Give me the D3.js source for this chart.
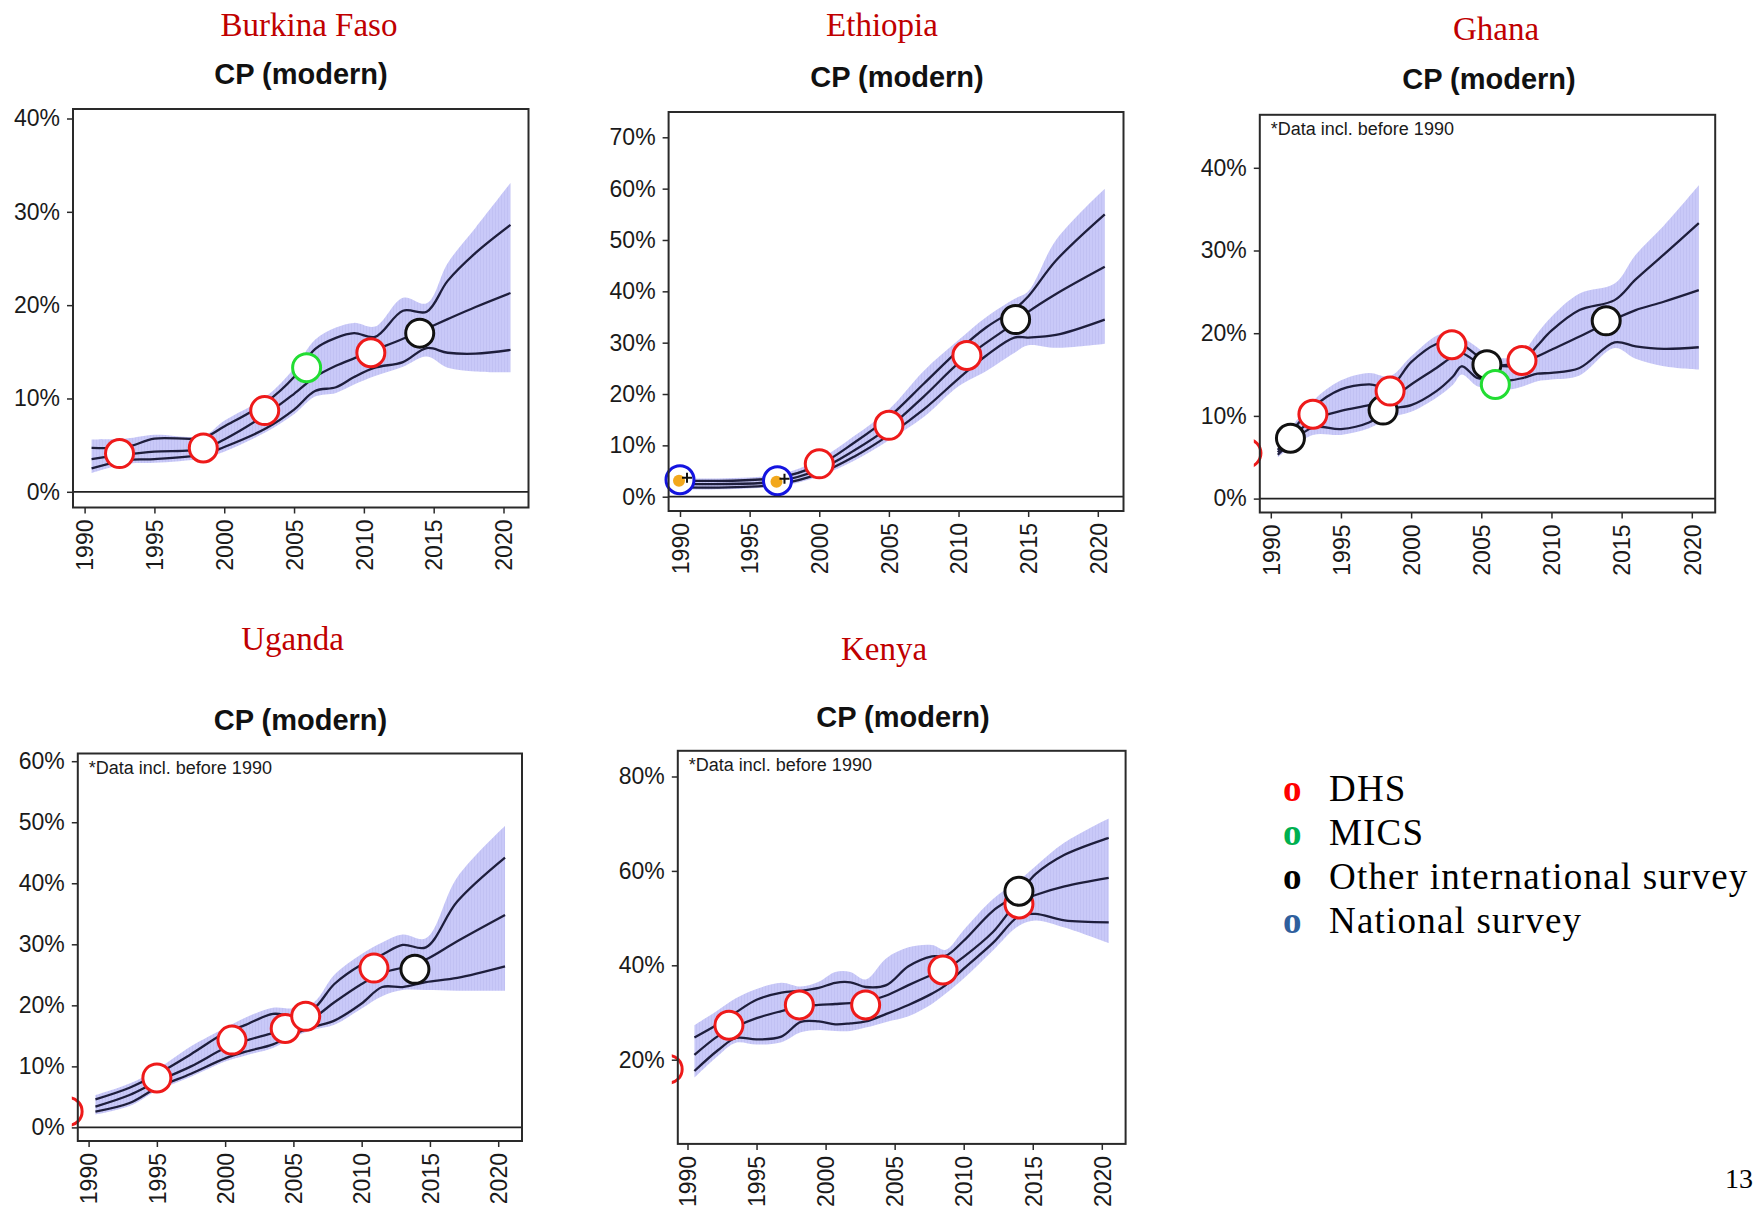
<!DOCTYPE html>
<html>
<head>
<meta charset="utf-8">
<script src="https://cdn.jsdelivr.net/npm/d3@7"></script>
<style>
  html, body { margin: 0; padding: 0; background: #fff; }
  svg { display: block; }
</style>
</head>
<body>
<svg id="chart" width="1754" height="1210"></svg>
<script>
// Modern contraceptive prevalence (CP, modern methods), estimates 1990-2020
// median, 80% bounds (lines) and 95% bounds (shaded band), in percent.

// ---- Burkina Faso ----
const burkinaYears  = [1990.5, 1993, 1995, 1998.5, 2000, 2003, 2005, 2006.5, 2008, 2009.3, 2010.8, 2012.8, 2014.5, 2016, 2018, 2020.5];
const burkinaMedian = [3.5, 4.0, 4.3, 4.6, 5.6, 8.3, 10.5, 12.3, 13.5, 14.3, 15.2, 16.4, 17.5, 18.5, 19.8, 21.3];
const burkinaUpper  = [4.7, 4.8, 5.7, 5.8, 7.0, 9.6, 12.3, 15.3, 16.5, 17.0, 16.6, 19.4, 19.3, 22.6, 25.6, 28.6];
const burkinaLower  = [2.5, 3.4, 3.5, 4.0, 4.8, 6.8, 8.8, 10.8, 11.2, 12.3, 13.3, 13.9, 15.4, 14.9, 14.8, 15.2];
const burkinaBandHi = [5.6, 5.7, 6.1, 6.0, 7.6, 10.2, 13.2, 16.3, 17.6, 18.1, 17.7, 20.8, 20.2, 24.5, 28.3, 33.1];
const burkinaBandLo = [2.0, 3.0, 3.1, 3.6, 4.3, 6.4, 8.3, 10.2, 10.6, 11.5, 12.4, 13.4, 14.5, 13.3, 12.9, 12.8];
const burkinaSurveys = [
  [1992.5, 4.1, "DHS"], [1998.5, 4.7, "DHS"], [2002.9, 8.7, "DHS"],
  [2005.9, 13.3, "MICS"], [2010.5, 14.9, "DHS"], [2014.0, 17.0, "Other"]
];

// ---- Ethiopia ----
const ethiopiaYears  = [1990, 1997, 2000, 2002.5, 2005, 2007.5, 2010, 2012, 2014, 2015, 2017, 2020.5];
const ethiopiaMedian = [2.5, 3.0, 5.3, 9.0, 13.5, 19.5, 26.0, 30.0, 33.8, 36.0, 39.5, 44.8];
const ethiopiaUpper  = [3.1, 3.7, 6.2, 10.5, 15.5, 22.0, 28.5, 33.0, 36.5, 39.0, 46.0, 55.0];
const ethiopiaLower  = [1.8, 2.4, 4.5, 7.8, 12.0, 17.0, 23.0, 27.5, 31.0, 31.0, 31.5, 34.5];
const ethiopiaBandHi = [3.6, 4.3, 7.3, 11.8, 17.0, 24.5, 30.5, 35.0, 38.5, 40.0, 50.0, 60.0];
const ethiopiaBandLo = [1.4, 2.0, 4.0, 7.0, 11.0, 15.5, 21.5, 24.5, 28.0, 29.5, 29.0, 29.8];
const ethiopiaSurveys = [
  [1990.0, 3.3, "National"], [1997.0, 3.1, "National"], [2000.0, 6.4, "DHS"],
  [2005.0, 13.9, "DHS"], [2010.6, 27.5, "DHS"], [2014.1, 34.5, "Other"]
];
// national surveys flagged with an adjustment marker
const ethiopiaFlagged = [[1990.0, 3.3], [1997.0, 3.1]];

// ---- Ghana ----
const ghanaYears  = [1990.5, 1993, 1995, 1997, 1998.5, 2000, 2001.8, 2003, 2003.6, 2004.7, 2005.5, 2007, 2008, 2009, 2010, 2012, 2014.5, 2016, 2018, 2020.5];
const ghanaMedian = [5.6, 9.5, 10.6, 11.3, 12.0, 13.8, 15.8, 17.2, 17.6, 16.5, 16.1, 16.2, 16.6, 17.2, 18.0, 19.6, 21.7, 22.8, 23.8, 25.2];
const ghanaUpper  = [5.9, 11.0, 13.2, 13.8, 13.5, 16.5, 18.7, 19.0, 18.7, 17.3, 16.5, 16.0, 16.7, 18.5, 20.3, 22.8, 24.0, 26.5, 29.5, 33.3];
const ghanaLower  = [5.3, 8.6, 8.4, 9.2, 10.8, 11.3, 13.0, 14.8, 16.0, 14.6, 14.5, 14.3, 14.6, 15.1, 15.2, 15.8, 18.9, 18.4, 18.1, 18.3];
const ghanaBandHi = [6.3, 11.8, 14.3, 15.2, 14.8, 17.2, 19.7, 20.2, 19.6, 18.3, 17.3, 17.0, 17.8, 20.0, 22.0, 24.8, 26.0, 29.5, 33.0, 37.9];
const ghanaBandLo = [5.0, 7.7, 7.7, 8.5, 9.8, 10.5, 12.2, 13.8, 15.0, 13.6, 13.5, 13.2, 13.6, 14.2, 14.4, 14.9, 18.2, 16.9, 16.0, 15.6];
const ghanaSurveys = [
  [1988.3, 5.5, "DHS"], [1991.4, 7.3, "Other"], [1998.0, 10.7, "Other"],
  [2005.4, 16.2, "Other"], [2013.9, 21.5, "Other"], [1993.0, 10.2, "DHS"],
  [1998.5, 13.0, "DHS"], [2002.9, 18.6, "DHS"], [2007.9, 16.7, "DHS"],
  [2006.0, 13.8, "MICS"]
];

// ---- Uganda ----
const ugandaYears  = [1990.5, 1993, 1995, 1997.5, 2000, 2001.5, 2003.5, 2005, 2006.5, 2008, 2010, 2011.5, 2013, 2014.7, 2017, 2020.5];
const ugandaMedian = [3.4, 5.3, 7.5, 10.0, 13.0, 14.2, 15.5, 16.6, 18.0, 20.5, 23.5, 25.3, 26.2, 27.5, 30.5, 34.8];
const ugandaUpper  = [4.6, 6.5, 8.7, 12.0, 15.5, 16.8, 18.6, 18.3, 19.5, 23.5, 26.7, 28.3, 29.9, 29.5, 37.0, 44.2];
const ugandaLower  = [2.6, 4.0, 6.5, 8.8, 11.3, 12.4, 13.6, 15.3, 16.5, 17.5, 20.3, 23.0, 23.0, 23.8, 24.5, 26.4];
const ugandaBandHi = [5.3, 7.2, 9.5, 13.3, 16.3, 18.0, 19.6, 19.5, 20.5, 25.0, 28.4, 30.3, 31.6, 31.0, 41.0, 49.4];
const ugandaBandLo = [2.1, 3.5, 6.0, 8.3, 10.8, 11.8, 13.0, 14.8, 16.0, 16.8, 19.5, 21.5, 22.5, 22.5, 22.4, 22.4];
const ugandaSurveys = [
  [1988.5, 2.6, "DHS"], [1995.0, 8.1, "DHS"], [2000.5, 14.3, "DHS"],
  [2004.4, 16.2, "DHS"], [2005.9, 18.2, "DHS"], [2010.9, 26.1, "DHS"],
  [2013.9, 25.9, "Other"]
];

// ---- Kenya ----
const kenyaYears  = [1990.5, 1992.2, 1993.5, 1995, 1996.8, 1998.2, 1999.5, 2000.7, 2001.8, 2002.9, 2004.4, 2006, 2007.7, 2008.7, 2010, 2012.1, 2014, 2015.2, 2017.3, 2020.5];
const kenyaMedian = [21.0, 25.0, 27.0, 28.8, 30.3, 31.3, 31.6, 31.8, 32.0, 32.3, 33.6, 35.8, 38.0, 39.2, 41.8, 47.0, 53.5, 54.9, 56.7, 58.5];
const kenyaUpper  = [24.7, 27.5, 30.0, 32.7, 34.2, 34.6, 35.2, 36.3, 36.4, 35.4, 35.8, 39.8, 41.9, 42.0, 45.2, 51.5, 55.3, 59.3, 63.4, 67.0];
const kenyaLower  = [17.6, 22.0, 24.6, 24.3, 24.9, 28.0, 28.1, 27.5, 27.7, 28.1, 29.7, 31.6, 34.0, 35.8, 39.3, 44.7, 50.4, 50.9, 49.5, 49.1];
const kenyaBandHi = [27.3, 30.5, 33.0, 35.0, 36.3, 35.5, 36.5, 38.6, 38.6, 37.0, 41.5, 43.8, 44.3, 43.3, 47.5, 54.0, 58.0, 61.0, 66.0, 71.1];
const kenyaBandLo = [16.2, 20.8, 23.6, 23.2, 23.7, 25.8, 26.3, 26.1, 26.1, 26.8, 28.0, 29.2, 31.8, 34.0, 37.2, 43.1, 48.4, 49.5, 48.0, 44.7];
const kenyaSurveys = [
  [1988.6, 18.0, "DHS"], [1993.0, 27.3, "DHS"], [1998.1, 31.6, "DHS"],
  [2002.9, 31.6, "DHS"], [2008.5, 39.0, "DHS"], [2014.0, 53.0, "DHS"],
  [2014.0, 55.7, "Other"]
];

// ---- axis ticks and legend ----
const yearTicks = [1990, 1995, 2000, 2005, 2010, 2015, 2020];
const legendSources = ["DHS", "MICS", "Other", "National"];
const legendLabels  = ["DHS", "MICS", "Other international survey", "National survey"];

// ---------------------------------------------------------------------
const sourceColor = { DHS: "#ee1a1a", MICS: "#22dd33", Other: "#111111", National: "#1414e0" };
const legendColor = { DHS: "#ff0000", MICS: "#00b050", Other: "#000000", National: "#2f5f9d" };

const zip = (ys, vs) => ys.map((y, i) => [y, vs[i]]);

// panel layout: plot box, reference tick positions, headings
const panels = [
  { name: "Burkina Faso", years: burkinaYears, median: burkinaMedian, upper: burkinaUpper, lower: burkinaLower,
    hi: burkinaBandHi, lo: burkinaBandLo, surveys: burkinaSurveys,
    box: [73, 109, 528.5, 507.5], xr: [84.6, 503.5], yd: [0, 40], yr: [491.8, 118.5], yTicks: [0, 10, 20, 30, 40],
    title: [309, 36], sub: [301, 84], note: false },
  { name: "Ethiopia", years: ethiopiaYears, median: ethiopiaMedian, upper: ethiopiaUpper, lower: ethiopiaLower,
    hi: ethiopiaBandHi, lo: ethiopiaBandLo, surveys: ethiopiaSurveys, flagged: ethiopiaFlagged,
    box: [668.6, 112, 1123.5, 511], xr: [680, 1097.8], yd: [0, 70], yr: [496.7, 137.3], yTicks: [0, 10, 20, 30, 40, 50, 60, 70],
    title: [882, 36], sub: [897, 87], note: false },
  { name: "Ghana", years: ghanaYears, median: ghanaMedian, upper: ghanaUpper, lower: ghanaLower,
    hi: ghanaBandHi, lo: ghanaBandLo, surveys: ghanaSurveys,
    box: [1259.8, 114.8, 1715.2, 512.5], xr: [1270.8, 1691.8], yd: [0, 40], yr: [498.6, 167.8], yTicks: [0, 10, 20, 30, 40],
    title: [1496, 40], sub: [1489, 88.5], note: true },
  { name: "Uganda", years: ugandaYears, median: ugandaMedian, upper: ugandaUpper, lower: ugandaLower,
    hi: ugandaBandHi, lo: ugandaBandLo, surveys: ugandaSurveys,
    box: [77.8, 753.5, 522, 1141], xr: [88.6, 498.2], yd: [0, 60], yr: [1127.4, 761.2], yTicks: [0, 10, 20, 30, 40, 50, 60],
    title: [292.5, 650], sub: [300.5, 729.5], note: true },
  { name: "Kenya", years: kenyaYears, median: kenyaMedian, upper: kenyaUpper, lower: kenyaLower,
    hi: kenyaBandHi, lo: kenyaBandLo, surveys: kenyaSurveys,
    box: [677.8, 750.8, 1125.6, 1143.9], xr: [687.5, 1101.8], yd: [20, 80], yr: [1059.7, 776.5], yTicks: [20, 40, 60, 80],
    title: [884, 660], sub: [903, 727], note: true }
];

const svg = d3.select("#chart");
const defs = svg.append("defs");

// faint vertical hatching inside the uncertainty band
const pat = defs.append("pattern").attr("id", "bandFill")
  .attr("patternUnits", "userSpaceOnUse").attr("width", 3).attr("height", 10);
pat.append("rect").attr("width", 3).attr("height", 10).attr("fill", "#c9c9f8");
pat.append("rect").attr("width", 1).attr("height", 10).attr("fill", "#c1c1f3");

const sans = "'Liberation Sans', Arial, Helvetica, sans-serif";
const serif = "'Liberation Serif', 'Times New Roman', serif";
const lineColor = "#1e1e3c";
const curve = d3.curveCatmullRom.alpha(0.5);

panels.forEach((p, idx) => {
  const [bx0, by0, bx1, by1] = p.box;
  const x = d3.scaleLinear().domain([1990, 2020]).range(p.xr);
  const y = d3.scaleLinear().domain(p.yd).range(p.yr);
  const g = svg.append("g");

  // country name and chart heading
  g.append("text").attr("x", p.title[0]).attr("y", p.title[1])
    .attr("text-anchor", "middle").attr("font-family", serif).attr("font-size", 33)
    .attr("fill", "#c00000").text(p.name);
  g.append("text").attr("x", p.sub[0]).attr("y", p.sub[1])
    .attr("text-anchor", "middle").attr("font-family", sans).attr("font-size", 29)
    .attr("font-weight", "bold").attr("fill", "#111").text("CP (modern)");

  // clip region: plot box, slightly open on the left for early surveys
  const clipId = "clip" + idx;
  defs.append("clipPath").attr("id", clipId).append("rect")
    .attr("x", bx0 - 6).attr("y", by0).attr("width", bx1 - bx0 + 6).attr("height", by1 - by0);

  const plot = g.append("g").attr("clip-path", `url(#${clipId})`);

  // uncertainty band
  const area = d3.area().curve(curve)
    .x(d => x(d[0])).y0(d => y(d[1])).y1(d => y(d[2]));
  plot.append("path")
    .datum(p.years.map((yr, i) => [yr, p.lo[i], p.hi[i]]))
    .attr("d", area).attr("fill", "url(#bandFill)");

  // zero reference line
  if (p.yd[0] === 0) {
    g.append("line").attr("x1", bx0).attr("x2", bx1).attr("y1", y(0)).attr("y2", y(0))
      .attr("stroke", "#222").attr("stroke-width", 1.8);
  }

  // median and bounds
  const line = d3.line().curve(curve).x(d => x(d[0])).y(d => y(d[1]));
  [p.upper, p.median, p.lower].forEach(vals => {
    plot.append("path").datum(zip(p.years, vals)).attr("d", line)
      .attr("fill", "none").attr("stroke", lineColor).attr("stroke-width", 2.3);
  });

  // survey observations
  plot.selectAll("circle.survey").data(p.surveys).join("circle")
    .attr("class", "survey")
    .attr("cx", d => x(d[0])).attr("cy", d => y(d[1])).attr("r", 14)
    .attr("fill", "#fff").attr("stroke", d => sourceColor[d[2]]).attr("stroke-width", 3);

  if (p.flagged) {
    p.flagged.forEach(d => {
      const cx = x(d[0]), cy = y(d[1]);
      plot.append("circle").attr("cx", cx - 1).attr("cy", cy + 1).attr("r", 6).attr("fill", "#f2a81d");
      plot.append("path").attr("d", `M${cx + 2},${cy - 2}h10M${cx + 7},${cy - 7}v10`)
        .attr("stroke", "#111").attr("stroke-width", 2);
    });
  }

  // plot frame
  g.append("rect").attr("x", bx0).attr("y", by0).attr("width", bx1 - bx0).attr("height", by1 - by0)
    .attr("fill", "none").attr("stroke", "#2a2a2a").attr("stroke-width", 2);

  // y axis
  const ya = g.append("g").attr("transform", `translate(${bx0},0)`)
    .call(d3.axisLeft(y).tickValues(p.yTicks).tickFormat(d => d + "%").tickSize(6).tickPadding(7));
  ya.select(".domain").remove();
  ya.selectAll("line").attr("stroke", "#2a2a2a").attr("stroke-width", 1.5);
  ya.selectAll("text").attr("font-family", sans).attr("font-size", 23).attr("fill", "#1a1a1a");

  // x axis with vertical year labels
  const xa = g.append("g").attr("transform", `translate(0,${by1})`)
    .call(d3.axisBottom(x).tickValues(yearTicks).tickFormat(d3.format("d")).tickSize(6));
  xa.select(".domain").remove();
  xa.selectAll("line").attr("stroke", "#2a2a2a").attr("stroke-width", 1.5);
  xa.selectAll("text")
    .attr("transform", "rotate(-90)").attr("text-anchor", "end")
    .attr("x", -12).attr("y", 0).attr("dy", "0.36em")
    .attr("font-family", sans).attr("font-size", 23).attr("fill", "#1a1a1a");

  if (p.note) {
    g.append("text").attr("x", bx0 + 11).attr("y", by0 + 20)
      .attr("font-family", sans).attr("font-size", 18).attr("fill", "#1a1a1a")
      .text("*Data incl. before 1990");
  }
});

// legend of data sources
const legend = svg.append("g").attr("transform", "translate(1283,801)");
legendSources.forEach((s, i) => {
  const row = legend.append("g").attr("transform", `translate(0,${i * 44})`);
  row.append("text").attr("x", 0).attr("y", 0)
    .attr("font-family", serif).attr("font-weight", "bold").attr("font-size", 37)
    .attr("fill", legendColor[s]).text("o");
  row.append("text").attr("x", 46).attr("y", 0)
    .attr("font-family", serif).attr("font-size", 37).attr("letter-spacing", 1.2)
    .attr("fill", "#000").text(legendLabels[i]);
});

// page number
svg.append("text").attr("x", 1725).attr("y", 1188)
  .attr("font-family", serif).attr("font-size", 28).attr("fill", "#000").text("13");
</script>
</body>
</html>
